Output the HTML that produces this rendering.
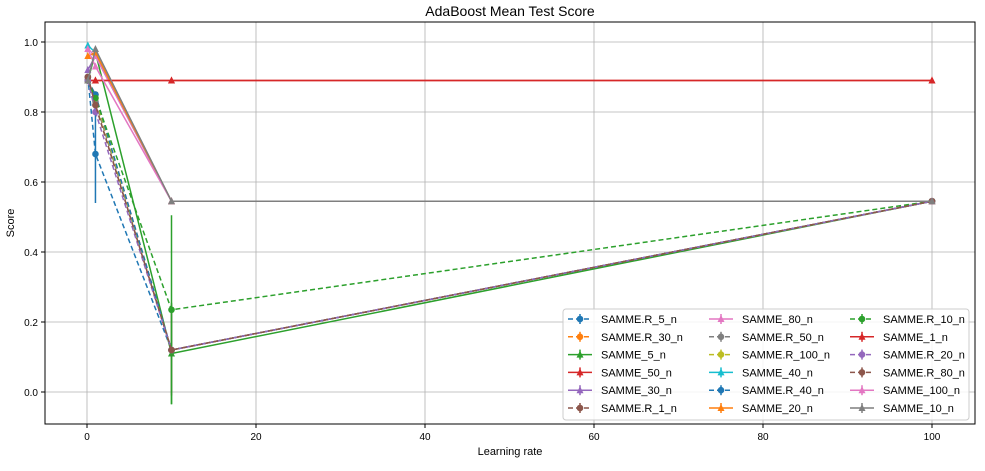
<!DOCTYPE html>
<html><head><meta charset="utf-8"><style>
body{margin:0;background:#fff;font-family:"Liberation Sans",sans-serif}
svg text{font-family:"Liberation Sans",sans-serif;fill:#000}
</style></head><body>
<svg id="c" width="985" height="466"></svg>
<script>
const xValues=[0.1,1,10,100];
const seriesNames=["SAMME.R_5_n","SAMME.R_30_n","SAMME_5_n","SAMME_50_n","SAMME_30_n","SAMME.R_1_n","SAMME_80_n","SAMME.R_50_n","SAMME.R_100_n","SAMME_40_n","SAMME.R_40_n","SAMME_20_n","SAMME.R_10_n","SAMME_1_n","SAMME.R_20_n","SAMME.R_80_n","SAMME_100_n","SAMME_10_n"];
const seriesColors=["#1f77b4","#ff7f0e","#2ca02c","#d62728","#9467bd","#8c564b","#e377c2","#7f7f7f","#bcbd22","#17becf","#1f77b4","#ff7f0e","#2ca02c","#d62728","#9467bd","#8c564b","#e377c2","#7f7f7f"];
const seriesValues=[
[0.90,0.68,0.12,0.545],
[0.89,0.85,0.12,0.545],
[0.89,0.97,0.11,0.545],
[0.89,0.89,0.89,0.89],
[0.92,0.96,0.545,0.545],
[0.90,0.82,0.12,0.545],
[0.98,0.96,0.545,0.545],
[0.89,0.83,0.12,0.545],
[0.89,0.84,0.12,0.545],
[0.99,0.97,0.545,0.545],
[0.89,0.85,0.12,0.545],
[0.96,0.97,0.545,0.545],
[0.89,0.84,0.235,0.545],
[0.89,0.89,0.89,0.89],
[0.89,0.80,0.12,0.545],
[0.90,0.82,0.12,0.545],
[0.98,0.93,0.545,0.545],
[0.89,0.98,0.545,0.545]];
const seriesErrors=[
[0,0.14,0,0],[0,0,0,0],[0,0,0.145,0],[0,0,0,0],[0,0,0,0],[0,0,0.13,0],
[0,0,0,0],[0,0,0,0],[0,0,0,0],[0,0,0,0],[0,0,0,0],[0,0,0,0],
[0,0,0.27,0],[0,0,0,0],[0,0,0,0],[0,0,0,0],[0,0,0,0],[0,0,0,0]];
const xTicks=[0,20,40,60,80,100];
const yTicks=[0.0,0.2,0.4,0.6,0.8,1.0];
const L=45,T=22,R=975,B=424;
const sx=v=>87+8.45*v, sy=v=>392-350*v;
const NS="http://www.w3.org/2000/svg", svg=document.getElementById('c');
function mk(t,a,p){const e=document.createElementNS(NS,t);for(const k in a)e.setAttribute(k,a[k]);(p||svg).appendChild(e);return e;}
const title=mk('text',{x:510,y:16,'text-anchor':'middle','font-size':14});title.textContent="AdaBoost Mean Test Score";


const grid=mk('g',{});


xTicks.forEach(t=>{mk('line',{x1:sx(t),x2:sx(t),y1:T,y2:B,stroke:'#b0b0b0','stroke-width':0.8},grid);mk('line',{x1:sx(t),x2:sx(t),y1:B,y2:B+4,stroke:'#000'});
const tx=mk('text',{x:sx(t),y:B+16,'text-anchor':'middle','font-size':10});tx.textContent=t;

});
yTicks.forEach(t=>{mk('line',{x1:L,x2:R,y1:sy(t),y2:sy(t),stroke:'#b0b0b0','stroke-width':0.8},grid);mk('line',{x1:L-4,x2:L,y1:sy(t),y2:sy(t),stroke:'#000'});
const tx=mk('text',{x:L-7,y:sy(t)+4,'text-anchor':'end','font-size':10});tx.textContent=t.toFixed(1);

});
const xl=mk('text',{x:510,y:455,'text-anchor':'middle','font-size':11});xl.textContent="Learning rate";


const yl=mk('text',{x:14,y:223,'text-anchor':'middle','font-size':11,transform:'rotate(-90 14 223)'});yl.textContent="Score";


function marker(g,x,y,tri,c){if(tri)mk('polygon',{points:`${x},${y-4} ${x-3.5},${y+3} ${x+3.5},${y+3}`,fill:c},g);else mk('circle',{cx:x,cy:y,r:3.3,fill:c},g);}
seriesNames.forEach((n,i)=>{const r=n.startsWith('SAMME.R'),c=seriesColors[i];
const g=mk('g',{});


mk('polyline',{points:xValues.map((x,j)=>sx(x)+','+sy(seriesValues[i][j])).join(' '),fill:'none',stroke:c,'stroke-width':1.5,'stroke-dasharray':r?'5,3':'none'},g);
xValues.forEach((x,j)=>{const e=seriesErrors[i][j];if(e>0)mk('line',{x1:sx(x),x2:sx(x),y1:sy(seriesValues[i][j]-e),y2:sy(seriesValues[i][j]+e),stroke:c,'stroke-width':1.5},g);marker(g,sx(x),sy(seriesValues[i][j]),!r,c);});});
const lg=mk('g',{});


mk('rect',{x:563,y:309,width:406,height:111,rx:3,fill:'#fff','fill-opacity':0.85,stroke:'#ccc'},lg);
seriesNames.forEach((n,i)=>{const col=Math.floor(i/6),row=i%6,x=568+col*141,y=319+row*17.8,r=n.startsWith('SAMME.R'),c=seriesColors[i];
const e=mk('g',{},lg);


mk('line',{x1:x,x2:x+24,y1:y,y2:y,stroke:c,'stroke-width':1.5,'stroke-dasharray':r?'5,3':'none'},e);
mk('line',{x1:x+12,x2:x+12,y1:y-5,y2:y+5,stroke:c,'stroke-width':1.5},e);
marker(e,x+12,y,!r,c);
const t=mk('text',{x:x+33,y:y+4,'font-size':11},e);t.textContent=n;});
mk('rect',{x:L,y:T,width:R-L,height:B-T,fill:'none',stroke:'#000','stroke-width':1});
</script>
</body></html>
